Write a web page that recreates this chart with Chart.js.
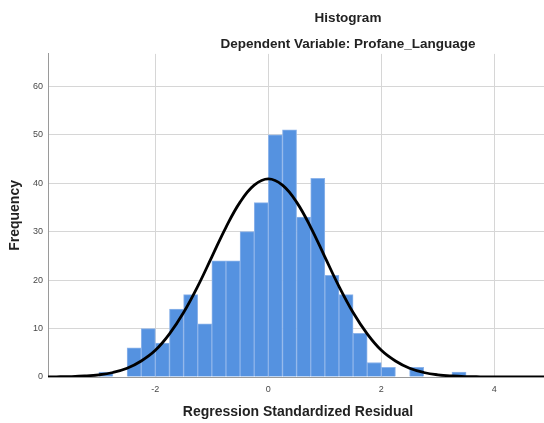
<!DOCTYPE html>
<html>
<head>
<meta charset="utf-8">
<script src="https://cdn.jsdelivr.net/npm/chart.js@4"></script>
<style>
  html, body { margin: 0; padding: 0; background: #fff; overflow: hidden; }
  #wrap { width: 696px; height: 423px; }
</style>
</head>
<body>
<div id="wrap"><canvas id="chart" width="696" height="423"></canvas></div>
<script>
// histogram bins (width 0.25), centres and counts
const binCenters = [-2.875, -2.625, -2.375, -2.125, -1.875, -1.625, -1.375, -1.125,
  -0.875, -0.625, -0.375, -0.125, 0.125, 0.375, 0.625, 0.875, 1.125, 1.375,
  1.625, 1.875, 2.125, 2.375, 2.625, 2.875, 3.125, 3.375];
const frequencies = [1, 0, 6, 10, 7, 14, 17, 11, 24, 24, 30, 36, 50, 51, 33, 41, 21, 17,
  9, 3, 2, 0, 2, 0, 0, 1];

// normal curve
const curveX = [-4, -3.75, -3.5, -3.25, -3, -2.75, -2.5, -2.25, -2, -1.75, -1.5, -1.25,
  -1, -0.75, -0.5, -0.25, 0, 0.25, 0.5, 0.75, 1, 1.25, 1.5, 1.75, 2, 2.25, 2.5,
  2.75, 3, 3.25, 3.5, 3.75, 4, 4.25, 4.5, 4.75, 5];
const curveY = [0.01, 0.04, 0.09, 0.21, 0.45, 0.93, 1.8, 3.3, 5.5, 8.9, 13.3, 18.7,
  24.8, 30.9, 36.1, 39.6, 40.9, 39.6, 36.1, 30.9, 24.8, 18.7, 13.3, 8.9, 5.5, 3.3, 1.8,
  0.93, 0.45, 0.21, 0.09, 0.04, 0.01, 0, 0, 0, 0];

const xTicks = [-2, 0, 2, 4];
const yTicks = [0, 10, 20, 30, 40, 50, 60];

const font = '"Liberation Sans", Arial, sans-serif';
const gridColor = '#d6d6d6';
const axisColor = '#9a9a9a';
const labelColor = '#484848';

new Chart(document.getElementById('chart'), {
  data: {
    datasets: [
      {
        type: 'line',
        data: curveX.map((x, i) => ({ x, y: curveY[i] })),
        borderColor: '#000',
        borderWidth: 2.8,
        pointRadius: 0,
        tension: 0.4,
        order: 0,
      },
      {
        type: 'bar',
        data: binCenters.map((x, i) => ({ x, y: frequencies[i] })),
        backgroundColor: '#5592e0',
        borderColor: '#8db4ea',
        borderWidth: 1,
        barPercentage: 1,
        categoryPercentage: 1,
        order: 1,
      },
    ],
  },
  options: {
    responsive: false,
    animation: false,
    events: [],
    plugins: {
      legend: { display: false },
      tooltip: { enabled: false },
      title: {
        display: true,
        text: 'Histogram',
        color: '#222',
        font: { family: font, size: 13.5, weight: 'bold' },
        padding: { top: 10, bottom: 9.5 },
      },
      subtitle: {
        display: true,
        text: 'Dependent Variable: Profane_Language',
        color: '#222',
        font: { family: font, size: 13.5, weight: 'bold' },
        padding: { top: 0, bottom: 2 },
      },
    },
    scales: {
      x: {
        type: 'linear',
        min: -3.9,
        max: 4.95,
        offset: false,
        afterBuildTicks: (s) => { s.ticks = xTicks.map((v) => ({ value: v })); },
        afterFit: (s) => { s.height = 46; },
        grid: { color: gridColor, drawTicks: false, offset: false },
        border: { color: axisColor },
        ticks: {
          color: labelColor,
          font: { family: font, size: 9 },
          padding: 7,
          maxRotation: 0,
        },
        title: {
          display: true,
          text: 'Regression Standardized Residual',
          color: '#222',
          font: { family: font, size: 14, weight: 'bold' },
          padding: { top: 0, bottom: 2 },
        },
      },
      y: {
        min: 0,
        max: 66.7,
        afterBuildTicks: (s) => { s.ticks = yTicks.map((v) => ({ value: v })); },
        afterFit: (s) => { s.width = 48; },
        grid: { color: gridColor, drawTicks: false },
        border: { color: axisColor },
        ticks: {
          color: labelColor,
          font: { family: font, size: 9 },
          padding: 5,
        },
        title: {
          display: true,
          text: 'Frequency',
          color: '#222',
          font: { family: font, size: 14, weight: 'bold' },
          padding: { top: 6.5, bottom: 0 },
        },
      },
      // empty strip on the right where the cropped stats box would sit
      pad: {
        position: 'right',
        min: 0,
        max: 1,
        afterFit: (s) => { s.width = 148; },
        grid: { display: false },
        border: { display: false },
        ticks: { display: false },
      },
    },
  },
});
</script>
</body>
</html>
